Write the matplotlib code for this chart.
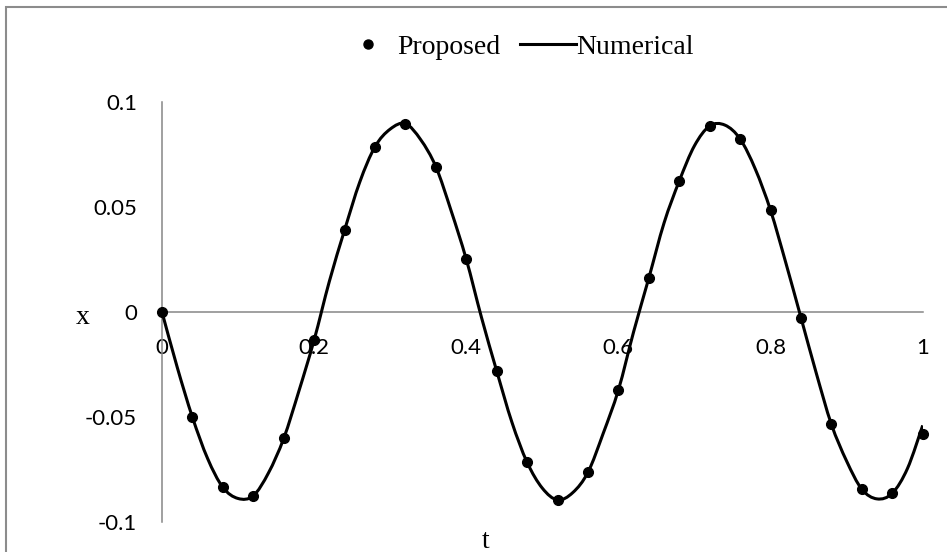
import numpy as np
from matplotlib import pyplot as plt
from matplotlib.lines import Line2D
from matplotlib.path import Path
from matplotlib.patches import PathPatch, Rectangle

# Proposed solution, sampled every 0.04
t_proposed = [0.00, 0.04, 0.08, 0.12, 0.16, 0.20, 0.24, 0.28, 0.32, 0.36,
              0.40, 0.44, 0.48, 0.52, 0.56, 0.60, 0.64, 0.68, 0.72, 0.76,
              0.80, 0.84, 0.88, 0.92, 0.96, 1.00]
x_proposed = [0.0, -0.0501, -0.0835, -0.0875, -0.0602, -0.0133, 0.0390,
              0.0787, 0.0897, 0.0692, 0.0251, -0.0281, -0.0716, -0.0895,
              -0.0763, -0.0371, 0.0162, 0.0624, 0.0886, 0.0824, 0.0484,
              -0.0027, -0.0535, -0.0844, -0.0863, -0.0582]

# Numerical solution, sampled every 0.02
t_numerical = [0.00, 0.02, 0.04, 0.06, 0.08, 0.10, 0.12, 0.14, 0.16, 0.18,
               0.20, 0.22, 0.24, 0.26, 0.28, 0.30, 0.32, 0.34, 0.36, 0.38,
               0.40, 0.42, 0.44, 0.46, 0.48, 0.50, 0.52, 0.54, 0.56, 0.58,
               0.60, 0.62, 0.64, 0.66, 0.68, 0.70, 0.72, 0.74, 0.76, 0.78,
               0.80, 0.82, 0.84, 0.86, 0.88, 0.90, 0.92, 0.94, 0.96, 0.98,
               1.00]
x_numerical = [0.0, -0.0263, -0.0501, -0.0698, -0.0835, -0.0888, -0.0875,
               -0.0766, -0.0602, -0.0376, -0.0133, 0.0146, 0.0390, 0.0619,
               0.0787, 0.0871, 0.0897, 0.0821, 0.0692, 0.0483, 0.0251,
               -0.0026, -0.0281, -0.0525, -0.0716, -0.0839, -0.0895,
               -0.0860, -0.0763, -0.0578, -0.0371, -0.0094, 0.0162, 0.0424,
               0.0624, 0.0792, 0.0886, 0.0890, 0.0824, 0.0680, 0.0484,
               0.0235, -0.0027, -0.0290, -0.0535, -0.0710, -0.0844, -0.0890,
               -0.0863, -0.0745, -0.0540]

x_ticks = [0, 0.2, 0.4, 0.6, 0.8, 1]
x_tick_labels = ["0", "0.2", "0.4", "0.6", "0.8", "1"]
y_ticks = [-0.1, -0.05, 0, 0.05, 0.1]
y_tick_labels = ["-0.1", "-0.05", "0", "0.05", "0.1"]

axis_grey = "#868686"
tick_font = "Lato"
label_font = "Liberation Serif"


def smooth_path(xs, ys):
    # Catmull-Rom spline through the samples, as cubic Bezier segments
    p = np.column_stack([xs, ys])
    p = np.vstack([p[0], p, p[-1]])
    verts = [p[1]]
    codes = [Path.MOVETO]
    for i in range(1, len(p) - 2):
        c1 = p[i] + (p[i + 1] - p[i - 1]) / 6.0
        c2 = p[i + 1] - (p[i + 2] - p[i]) / 6.0
        verts += [c1, c2, p[i + 1]]
        codes += [Path.CURVE4] * 3
    return Path(verts, codes)


fig = plt.figure(figsize=(9.47, 5.52), dpi=100)
ax = fig.add_axes([162 / 947, 1 - 522 / 552, (922.7 - 162) / 947, 420 / 552])

ax.add_patch(PathPatch(smooth_path(t_numerical, x_numerical), fill=False,
                       edgecolor="black", linewidth=2.2, zorder=3))
ax.plot(t_proposed, x_proposed, linestyle="none", marker="o",
        markersize=7, color="black", zorder=4, clip_on=False)

ax.set_xlim(0, 1)
ax.set_ylim(-0.1, 0.1)

ax.spines["top"].set_visible(False)
ax.spines["right"].set_visible(False)
ax.spines["bottom"].set_position(("data", 0))
ax.spines["left"].set_position(("data", 0))
for side in ("bottom", "left"):
    ax.spines[side].set_color(axis_grey)
    ax.spines[side].set_linewidth(1.1)

ax.set_xticks(x_ticks)
ax.set_xticklabels(x_tick_labels, fontfamily=tick_font, fontsize=16)
ax.set_yticks(y_ticks)
ax.set_yticklabels(y_tick_labels, fontfamily=tick_font, fontsize=16)
ax.tick_params(axis="x", length=0, pad=19)
ax.tick_params(axis="y", length=0, pad=18)

fig.text(83 / 947, 1 - 317 / 552, "x", fontfamily=label_font, fontsize=20,
         ha="center", va="center")
fig.text(486 / 947, 1 - 541 / 552, "t", fontfamily=label_font, fontsize=20,
         ha="center", va="center")

handles = [
    Line2D([], [], linestyle="none", marker="o", markersize=6.5,
           color="black"),
    Line2D([], [], color="black", linewidth=2.2),
]
fig.legend(handles, ["Proposed", "Numerical"], ncol=2, frameon=False,
           loc="center", bbox_to_anchor=(517 / 947, 1 - 47 / 552),
           prop={"family": label_font, "size": 20},
           handlelength=2.05, handletextpad=0.0, columnspacing=0.7)

# chart area border (top and left edges only are inside the frame)
fig.patches.append(Rectangle((6 / 947, -0.2), 1.5, 1.2 - 7 / 552,
                             transform=fig.transFigure, fill=False,
                             edgecolor="#8c8c8c", linewidth=1.5))

fig.savefig("out.png", dpi=100)
